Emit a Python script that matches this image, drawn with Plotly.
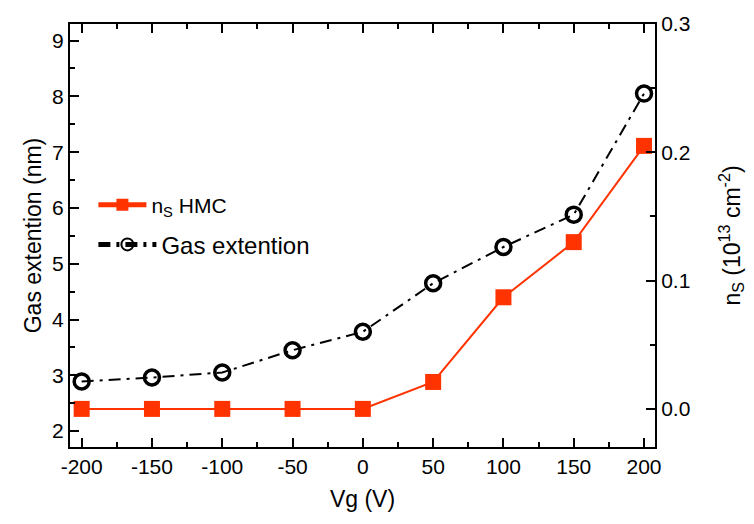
import plotly.graph_objects as go

# Gate voltage sweep
vg = [-200, -150, -100, -50, 0, 50, 100, 150, 200]

# Sheet carrier density from HMC (10^13 cm^-2), right axis
ns_hmc = [0.0, 0.0, 0.0, 0.0, 0.0, 0.021, 0.087, 0.130, 0.205]

# Gas extension (nm), left axis
gas_ext = [2.89, 2.96, 3.05, 3.45, 3.78, 4.65, 5.30, 5.88, 8.05]

RED = "#FF3300"
FONT = "Liberation Sans, Arial, sans-serif"

fig = go.Figure()

fig.add_trace(go.Scatter(
    x=vg, y=ns_hmc, yaxis="y2", mode="lines+markers",
    name="n<sub>S</sub> HMC",
    line=dict(color=RED, width=2),
    marker=dict(symbol="square", size=16, color=RED),
    legend="legend",
))

fig.add_trace(go.Scatter(
    x=vg, y=gas_ext, mode="lines+markers",
    name="Gas extention",
    line=dict(color="black", width=2, dash="12px,6px,3px,6px"),
    marker=dict(symbol="circle-open", size=15, color="black",
                line=dict(width=3.5, color="black")),
    legend="legend2",
))

axis_common = dict(
    showline=True, linecolor="black", linewidth=2,
    ticks="inside", ticklen=9, tickwidth=2, tickcolor="black",
    showgrid=False, zeroline=False,
    tickfont=dict(family=FONT, size=21, color="black"),
)

fig.update_layout(
    width=754, height=524,
    margin=dict(l=70, r=99, t=13, b=77),
    plot_bgcolor="white", paper_bgcolor="white",
    font=dict(family=FONT, color="black"),
    xaxis=dict(
        **axis_common,
        range=[-208.3, 207.8],
        tickmode="array", tickvals=vg, ticktext=[str(v) for v in vg],
        mirror="ticks",
        minor=dict(ticks="inside", ticklen=5, tickwidth=2, tickcolor="black", dtick=25, tick0=-200),
        title=dict(text="Vg (V)", font=dict(family=FONT, size=23), standoff=14),
    ),
    yaxis=dict(
        **axis_common,
        range=[1.715, 9.297],
        dtick=1, tick0=0,
        minor=dict(ticks="inside", ticklen=5, tickwidth=2, tickcolor="black", dtick=0.5),
        title=dict(text="Gas extention (nm)", font=dict(family=FONT, size=23), standoff=4),
    ),
    yaxis2=dict(
        **axis_common,
        overlaying="y", side="right",
        range=[-0.0297, 0.3],
        dtick=0.1, tick0=0, tickformat=".1f",
        minor=dict(ticks="inside", ticklen=5, tickwidth=2, tickcolor="black", dtick=0.05),
        title=dict(text="n<sub>S</sub> (10<sup>13</sup> cm<sup>-2</sup>)",
                   font=dict(family=FONT, size=23), standoff=34),
    ),
    legend=dict(
        x=0.04, y=0.572, xanchor="left", yanchor="middle",
        bgcolor="rgba(0,0,0,0)", font=dict(family=FONT, size=21),
        itemwidth=48, itemsizing="constant",
    ),
    legend2=dict(
        x=0.04, y=0.478, xanchor="left", yanchor="middle",
        bgcolor="rgba(0,0,0,0)", font=dict(family=FONT, size=24),
        itemwidth=58, itemsizing="constant",
    ),
    showlegend=True,
)

fig.write_html("out.html")
